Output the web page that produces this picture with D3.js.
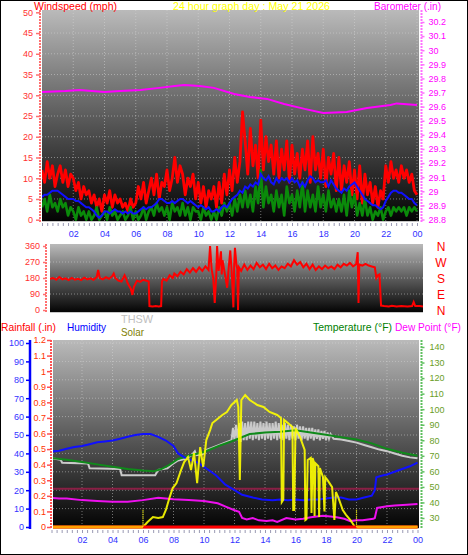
<!DOCTYPE html>
<html><head><meta charset="utf-8">
<script src="https://cdn.jsdelivr.net/npm/d3@7"></script>
<style>
body{margin:0;background:#fff}
svg{display:block}
text{font-family:"Liberation Sans Narrow","Liberation Sans",Arial,sans-serif}
</style>
</head><body>
<svg id="c" width="468" height="555"></svg>
<script>
// ---------------- DATA ----------------
const hourTicks = [2,4,6,8,10,12,14,16,18,20,22,24];
const hourLabels = ["02","04","06","08","10","12","14","16","18","20","22","00"];

// wind, one sample every 10 minutes (mph)
const windGust = [
12,9,14,10,13,8, 11,13,9,12,8,11, 10,7,9,5,8,6, 7,4,6,3,5,2, 6,4,7,3,6,4, 5,3,4,2,5,3,
4,8,5,9,4,7, 10,6,11,5,9,8, 12,7,10,15,9,13, 11,6,10,8,11,5, 9,4,8,3,7,5, 8,3,9,4,11,6,
12,7,15,9,14,26, 19,11,22,13,18,10, 24,12,20,14,18,11, 19,10,17,12,19,9, 18,11,16,10,17,12, 19,9,20,12,16,10,
17,8,15,11,16,7, 15,7,13,9,14,6, 12,5,13,4,11,6, 9,4,8,3,7,5, 13,9,14,10,12,9, 13,10,12,9,11,7, 6];
const windAvg = [
5.5,6,6,6.5,7,7, 7,6.5,6,5.5,5,5, 5,4.5,4.5,4,3.5,3, 3,2.5,2,1,0.5,1, 2,2,1.5,2,2.5,2, 2,1.5,2,1.5,2,1.5,
1.5,2,2.5,3,2.5,3, 3,3.5,4,5,5,4.5, 4,4,4.5,4,4.5,5, 5,4.5,4,4.5,4,3.5, 3,3.5,3,2.5,3,2, 2,2.5,2,3,3.5,3,
4,5,5.5,6,7,6.5, 8,7.5,8.5,8,9,8.5, 11,10,9.5,10.5,9,8.5, 10,9,10,9.5,10,9, 10,9,9.5,8,9,8, 9.5,10.5,10,9,9.5,9,
9,9.5,8,9.5,8.5,7.5, 7,6.5,7.5,7,8,8.5, 9,8,7,6,5,4.5, 4,3.5,3.5,3,2.5,3, 4.5,5.5,6.5,7,7,6.5, 6.5,6,5.5,5,5,4, 3.5];
const windSpeed = [
3,5,2,6,3,4, 2,5,3,4,1,3, 2,0,3,1,2,0, 2,0,1,3,0,1, 2,0,3,1,2,0, 1,2,0,1,3,0,
2,0,1,3,0,2, 3,1,4,2,3,1, 3,0,4,2,3,1, 4,1,3,0,3,2, 2,0,3,1,2,0, 2,0,3,1,4,2,
4,1,5,2,6,3, 7,3,6,2,8,4, 12,3,8,4,6,2, 7,3,6,1,8,4, 6,2,7,3,9,2, 7,3,6,2,8,3,
6,2,7,3,5,2, 5,2,6,1,7,3, 6,1,4,1,5,1, 3,0,2,1,3,0, 2,3,1,3,2,3, 2,3,1,3,2,3, 2];

// barometer [hour, inHg]
const barometer = [[0,29.704],[1.5,29.711],[2.4,29.718],[4,29.704],[5,29.711],[6.3,29.718],[7.5,29.733],
[8.5,29.747],[9.1,29.754],[10.1,29.747],[11,29.733],[12.3,29.69],[13.3,29.669],[14.4,29.655],[15.5,29.619],
[16.8,29.584],[18,29.555],[19.5,29.562],[20.8,29.59],[22.3,29.612],[22.7,29.623],[24,29.612]];

// wind direction [hour, degrees]
const windDir = [[0,175],[0.2,180],[0.4,170],[0.6,185],[0.8,172],[1,178],[1.2,168],[1.4,180],[1.6,170],[1.8,176],
[2,168],[2.2,182],[2.4,172],[2.6,178],[2.8,170],[3,185],[3.1,225],[3.2,180],[3.4,172],[3.6,185],[3.8,175],[4,190],
[4.1,205],[4.2,180],[4.4,165],[4.6,160],[4.8,195],[4.9,175],[5,150],[5.2,120],[5.3,85],[5.4,130],[5.6,165],[5.8,158],
[6,170],[6.2,165],[6.35,160],[6.4,22],[6.6,20],[6.8,22],[7,20],[7.15,22],[7.2,160],[7.3,175],[7.5,165],[7.7,195],
[7.9,180],[8,205],[8.2,190],[8.4,215],[8.6,200],[8.8,230],[9,210],[9.2,235],[9.4,215],[9.6,240],[9.8,220],[10,245],
[10.2,225],[10.3,360],[10.4,230],[10.5,180],[10.6,40],[10.7,200],[10.75,360],[10.85,220],[11,330],[11.05,200],
[11.1,280],[11.2,230],[11.4,125],[11.5,240],[11.6,335],[11.7,200],[11.8,15],[11.85,250],[11.9,350],[12,250],
[12.05,230],[12.1,0],[12.15,240],[12.3,220],[12.5,255],[12.7,225],[12.9,250],[13.1,230],[13.3,265],[13.5,240],
[13.7,255],[13.9,230],[14.1,260],[14.3,235],[14.5,250],[14.7,225],[14.9,245],[15.1,235],[15.3,260],[15.5,245],
[15.7,280],[15.9,255],[16.1,270],[16.3,240],[16.5,260],[16.7,230],[16.9,255],[17.1,225],[17.3,245],[17.5,230],
[17.7,250],[17.9,235],[18.1,245],[18.3,230],[18.5,255],[18.7,240],[18.9,260],[19.1,250],[19.3,265],[19.5,245],
[19.7,258],[19.8,325],[19.85,40],[19.9,255],[20.1,250],[20.3,260],[20.5,250],[20.7,245],[20.9,240],[21,180],
[21.1,195],[21.2,200],[21.3,25],[21.5,22],[21.8,20],[22,24],[22.3,20],[22.6,23],[23,20],[23.3,22],[23.4,45],
[23.5,22],[23.8,22],[24,20]];
const compass = ["N","W","S","E","N"];
const compassDeg = [360,270,180,90,0];

// humidity [hour, %]
const humidity = [[0,41],[0.5,41.5],[1,42.5],[1.5,43.5],[2,44],[2.5,45],[3,46],[3.5,46.5],[4,47],[4.5,48],[5,49],
[5.5,50],[6,50.5],[6.5,50.5],[7,49],[7.5,47],[8,44],[8.3,40],[8.8,37.5],[9.6,35],[10.3,31],[10.8,28],[11.4,23],
[12,20],[12.5,17.5],[13.2,16],[13.8,15],[14.5,14.5],[15,15],[15.5,14.5],[16,15],[16.5,14.5],[17,15],[17.5,15],
[18,15.5],[18.5,16],[19,16],[19.5,15],[20,15],[20.5,16],[21,17],[21.2,20],[21.3,27],[21.7,28],[22,28.5],
[22.5,30],[23,31.5],[23.5,33],[24,35]];
// temperature [hour, °F]
const temperature = [[0,68.5],[1,67.5],[2,66],[3,64.5],[4,63],[5,61.5],[6,60.5],[6.7,60],[7.2,61.5],[7.7,64],
[8.3,68],[9,70],[10,72.5],[11,76.5],[12,80],[13,84],[14,85],[15,85.5],[16,86.5],[17,85],[18,83.5],[19,82],
[20,80.5],[21,78],[22,74.5],[23,72],[24,70]];
// dew point [hour, °F]
const dewPoint = [[0,43],[0.5,42.5],[1,42.5],[2,41.5],[3,41],[4,40.5],[5,40.5],[6,41.5],[7,43],[8,42],[9,41.5],
[10,41],[10.9,39.5],[11.5,37],[12,35],[12.3,34],[12.5,30],[12.8,29],[13.2,30],[13.6,28.5],[14.1,28],[14.5,28.5],
[14.8,27.5],[15.4,30],[16,29],[16.5,29.5],[17,30.5],[17.8,31.5],[18.3,31],[18.7,30.5],[19.2,29.5],[19.6,28],
[20,28.5],[20.4,28.5],[21.1,29.5],[21.2,30],[21.35,36.5],[22,37.5],[22.5,38],[23.3,38.5],[24,39]];
// THSW index [hour, °F]
const thsw = [[0,68.5],[0.6,67.5],[0.7,65.5],[2.4,65],[2.5,62],[4.5,61.5],[4.6,57.5],[6.8,57.5],[7,61],[7.6,62],
[7.9,64.5],[8.3,67],[8.8,68],[9.2,70.5],[9.4,73],[9.5,70.5],[9.9,71],[10.2,74],[10.5,75],[11,77],[11.5,79],
[11.8,80],[11.9,88],[12,80],[12.1,90],[12.2,80],[12.3,91],[12.4,79],[12.5,92],[12.6,80],[12.7,91],[12.8,80],
[12.9,92],[13,81],[13.1,92],[13.2,80],[13.3,92],[13.4,81],[13.5,91],[13.6,80],[13.7,92],[13.8,81],[13.9,91],
[14,80],[14.1,92],[14.2,81],[14.3,91],[14.4,80],[14.5,91],[14.6,81],[14.7,92],[14.8,80],[14.9,91],[15,81],
[15.1,90],[15.2,80],[15.3,91],[15.4,81],[15.5,90],[15.6,80],[15.7,90],[15.8,81],[15.9,89],[16,80],[16.1,90],
[16.2,81],[16.3,89],[16.4,80],[16.5,89],[16.6,81],[16.7,88],[16.8,80],[16.9,88],[17,81],[17.1,88],[17.2,80],
[17.3,87],[17.4,81],[17.5,87],[17.6,80],[17.7,86],[17.8,81],[17.9,86],[18,80],[18.1,85],[18.2,81],[18.3,84],
[18.5,81],[19,80.5],[19.5,79.5],[20,78.5],[20.5,77],[21,75.5],[21.5,74],[22,73],[22.5,71.5],[23,70],[23.5,69],[24,68.5]];
// solar radiation [hour, W/m²]
const solar = [[0,0],[6,0],[6.3,32],[6.65,64],[7,58],[7.3,64],[7.5,109],[7.75,192],[7.95,250],[8.2,282],[8.5,366],
[8.7,417],[8.95,449],[9.15,366],[9.35,475],[9.55,282],[9.75,513],[9.95,385],[10.15,558],[10.4,622],[10.55,667],
[10.8,687],[11.2,719],[11.5,738],[11.8,783],[12.15,815],[12.25,770],[12.35,301],[12.45,815],[12.7,847],[13,815],
[13.5,783],[13.9,770],[14.3,738],[14.8,719],[15.05,700],[15.1,160],[15.2,175],[15.25,687],[15.5,667],[15.8,642],
[15.85,109],[15.92,109],[16,635],[16.3,577],[16.6,494],[16.65,45],[16.72,50],[16.8,430],[17,443],[17.05,90],
[17.12,443],[17.2,420],[17.25,70],[17.3,410],[17.5,390],[17.55,64],[17.6,378],[17.8,321],[17.9,100],[17.95,320],
[18.1,301],[18.4,256],[18.55,45],[18.65,225],[18.8,192],[19.1,109],[19.3,80],[19.6,45],[19.9,0],[24,0]];
const rainfall = [[0,0],[24,0]];
const sunTimes = [6,20];
const limitLevel = [0.245];

// ---------------- CHART ----------------
const svg = d3.select("#c");
const defs = svg.append("defs");
const grad = defs.append("linearGradient").attr("id","bg").attr("x1",0).attr("y1",0).attr("x2",0).attr("y2",1);
grad.append("stop").attr("offset","0%").attr("stop-color","#bababa");
grad.append("stop").attr("offset","50%").attr("stop-color","#5c5c5c");
grad.append("stop").attr("offset","100%").attr("stop-color","#020202");

svg.append("rect").attr("x",0.5).attr("y",0.5).attr("width",467).attr("height",554)
  .attr("fill","#fff").attr("stroke","#000");

function panel(id,x0,y0,x1,y1){
  defs.append("clipPath").attr("id",id).append("rect")
    .attr("x",x0).attr("y",y0).attr("width",x1-x0).attr("height",y1-y0);
  svg.append("rect").attr("x",x0).attr("y",y0).attr("width",x1-x0).attr("height",y1-y0).attr("fill","url(#bg)");
  svg.append("line").attr("x1",x0).attr("x2",x1).attr("y1",y1-0.5).attr("y2",y1-0.5).attr("stroke","#c8c8c8");
  return svg.append("g").attr("clip-path",`url(#${id})`);
}
function grid(g,xs,ys,x0,x1,y0,y1){
  g.selectAll(null).data(xs).join("line").attr("x1",d=>d).attr("x2",d=>d).attr("y1",y0).attr("y2",y1)
    .attr("stroke","rgba(215,215,215,0.5)").attr("stroke-dasharray","1,2");
  g.selectAll(null).data(ys).join("line").attr("y1",d=>d).attr("y2",d=>d).attr("x1",x0).attr("x2",x1)
    .attr("stroke","rgba(215,215,215,0.5)").attr("stroke-dasharray","1,2");
}
function styleAxis(a,lineColor,textColor,fs){
  a.attr("font-family",null).attr("font-size",null);
  a.select(".domain").remove();
  a.selectAll(".tick line").attr("stroke",lineColor).attr("stroke-width",1.5);
  a.selectAll(".tick text").attr("fill",textColor).attr("font-size",fs||9);
}
function vline(x,y0,y1,color,w,dash){
  svg.append("line").attr("x1",x).attr("x2",x).attr("y1",y0).attr("y2",y1)
    .attr("stroke",color).attr("stroke-width",w).attr("stroke-dasharray",dash||null);
}
const fmt1 = d => String(+d.toFixed(1));

// ---- Panel 1: wind + barometer
const P1 = {x0:42,x1:419,y0:10,y1:222};
const x1s = d3.scaleLinear().domain([0,24]).range([42,417]);
const yWind = d3.scaleLinear().domain([0,50]).range([219.7,12.3]);
const yBaro = d3.scaleLinear().domain([28.8,30.2]).range([219.5,22]);
const g1 = panel("p1",P1.x0,P1.y0,P1.x1,P1.y1);
grid(g1,hourTicks.map(x1s),d3.range(5,50,5).map(yWind),P1.x0,P1.x1,P1.y0,P1.y1);
const tIdx = i => i/6;
const lineW = d3.line().x((d,i)=>x1s(tIdx(i))).y(d=>yWind(d));
g1.append("path").attr("d",lineW(windGust)).attr("fill","none").attr("stroke","#ff0000").attr("stroke-width",2.8).attr("stroke-linejoin","round");
g1.append("path").attr("d",lineW(windSpeed)).attr("fill","none").attr("stroke","#0a8a0a").attr("stroke-width",2.6).attr("stroke-linejoin","round");
g1.append("path").attr("d",lineW(windAvg)).attr("fill","none").attr("stroke","#1010ff").attr("stroke-width",2);
g1.append("path").attr("d",d3.line().x(d=>x1s(d[0])).y(d=>yBaro(d[1]))(barometer))
  .attr("fill","none").attr("stroke","#ff00ff").attr("stroke-width",2);

vline(40,P1.y0,P1.y1,"#ff7070",2,"2,1");
const aW = svg.append("g").attr("transform","translate(40,0)")
  .call(d3.axisLeft(yWind).tickValues(d3.range(0,51,5)).tickSize(4).tickPadding(3).tickSizeOuter(0));
styleAxis(aW,"#ff7070","#ff3030");
vline(421.5,P1.y0,P1.y1,"#ff70ff",2,"2,1");
const aB = svg.append("g").attr("transform","translate(421.5,0)")
  .call(d3.axisRight(yBaro).tickValues(d3.range(0,15).map(i=>28.8+i*0.1)).tickFormat(fmt1).tickSize(3).tickPadding(4).tickSizeOuter(0));
styleAxis(aB,"#ff70ff","#ff00ff");
const xMin1 = svg.append("g").attr("transform","translate(0,223)")
  .call(d3.axisBottom(x1s).tickValues(d3.range(0,73).map(i=>i/3)).tickSize(3).tickFormat(""));
styleAxis(xMin1,"#9a9ab4","#000"); xMin1.selectAll(".tick line").attr("stroke-width",1);
const xA1 = svg.append("g").attr("transform","translate(0,229)")
  .call(d3.axisBottom(x1s).tickValues(hourTicks).tickFormat((d,i)=>hourLabels[i]).tickSize(0).tickPadding(2));
styleAxis(xA1,"none","#3030ff");

// titles
function title(txt,x,y,len,color,fs){
  svg.append("text").attr("x",x).attr("y",y).attr("fill",color).attr("font-size",fs)
    .attr("textLength",len).attr("lengthAdjust","spacingAndGlyphs").text(txt);
}
title("Windspeed (mph)",34,9.5,83,"#ff0000",11);
title("24 hour graph day : May 21 2026",173,9.5,157,"#ffff00",11);
title("Barometer (.in)",374,9.5,67,"#ff00ff",11);

// ---- Panel 2: wind direction
const P2 = {x0:50,x1:423,y0:244,y1:313};
const x2s = d3.scaleLinear().domain([0,24]).range([50,423]);
const yDir = d3.scaleLinear().domain([0,360]).range([310,246]);
const g2 = panel("p2",P2.x0,P2.y0,P2.x1,P2.y1);
grid(g2,[],[90,180,270].map(yDir),P2.x0,P2.x1,P2.y0,P2.y1);
g2.append("path").attr("d",d3.line().x(d=>x2s(d[0])).y(d=>yDir(d[1]))(windDir))
  .attr("fill","none").attr("stroke","#ff0000").attr("stroke-width",2);
vline(46,P2.y0,P2.y1,"#ff7070",2,"2,1");
const aD = svg.append("g").attr("transform","translate(46,0)")
  .call(d3.axisLeft(yDir).tickValues([0,90,180,270,360]).tickSize(3).tickPadding(3).tickSizeOuter(0));
styleAxis(aD,"#ff7070","#ff3030");
svg.selectAll(null).data(compass).join("text").attr("x",441).attr("y",(d,i)=>yDir(compassDeg[i])+4.5)
  .attr("text-anchor","middle").attr("fill","#ff0000").attr("font-size",12).text(d=>d);

// ---- Panel 3
title("Rainfall (.in)",1,331,55,"#ff0000",10.5);
title("Humidity",67,331,39,"#0000ff",10.5);
title("THSW",121,323,32,"#c0c0c0",10.5);
title("Solar",121,336,23,"#808000",10.5);
title("Temperature (°F)",313,331,79,"#008000",10.5);
title("Dew Point (°F)",395,331,66,"#ff00ff",10.5);

const P3 = {x0:53,x1:419,y0:340,y1:529};
const x3s = d3.scaleLinear().domain([0,24]).range([51.5,417.5]);
const yHum = d3.scaleLinear().domain([0,100]).range([527,343]);
const yRain = d3.scaleLinear().domain([0,1.2]).range([527,340]);
const yTemp = d3.scaleLinear().domain([30,140]).range([518,347]);
const ySol = d3.scaleLinear().domain([0,1200]).range([527,340]);
const g3 = panel("p3",P3.x0,P3.y0,P3.x1,P3.y1);
grid(g3,hourTicks.slice(0,-1).map(x3s),d3.range(10,101,10).map(yHum),P3.x0,P3.x1,P3.y0,P3.y1);
g3.selectAll(null).data(limitLevel).join("line").attr("x1",P3.x0).attr("x2",P3.x1)
  .attr("y1",d=>yRain(d)).attr("y2",d=>yRain(d)).attr("stroke","#8a1f45").attr("stroke-width",2);
const lineT = d3.line().x(d=>x3s(d[0])).y(d=>yTemp(d[1]));
g3.append("path").attr("d",lineT(thsw)).attr("fill","none").attr("stroke","#cacaca").attr("stroke-width",2);
g3.append("path").attr("d",lineT(temperature)).attr("fill","none").attr("stroke","#0f8a1a").attr("stroke-width",2);
g3.append("path").attr("d",d3.line().x(d=>x3s(d[0])).y(d=>yHum(d[1]))(humidity))
  .attr("fill","none").attr("stroke","#1010ff").attr("stroke-width",2);
g3.append("path").attr("d",lineT(dewPoint)).attr("fill","none").attr("stroke","#ee10ee").attr("stroke-width",2);
g3.append("path").attr("d",d3.line().x(d=>x3s(d[0])).y(d=>ySol(d[1]))(solar))
  .attr("fill","none").attr("stroke","#ffff00").attr("stroke-width",2).attr("stroke-opacity",0.9);
g3.append("path").attr("d",d3.line().x(d=>x3s(d[0])).y(d=>yRain(d[1]))(rainfall))
  .attr("fill","none").attr("stroke","#ff0000").attr("stroke-width",3);
const night = [[0,sunTimes[0]],[sunTimes[1],24]];
g3.selectAll(null).data(night).join("line").attr("x1",d=>x3s(d[0])).attr("x2",d=>x3s(d[1]))
  .attr("y1",yRain(0)).attr("y2",yRain(0)).attr("stroke","#ffa000").attr("stroke-width",3);
g3.selectAll(null).data(sunTimes).join("line").attr("x1",d=>x3s(d)).attr("x2",d=>x3s(d))
  .attr("y1",ySol(110)).attr("y2",ySol(0)).attr("stroke","#ffff00").attr("stroke-width",1.2).attr("stroke-dasharray","1,1");

vline(30,P3.y0,P3.y1,"#0000ff",2.5);
const aH = svg.append("g").attr("transform","translate(30,0)")
  .call(d3.axisLeft(yHum).tickValues(d3.range(0,101,10)).tickSize(4).tickPadding(2).tickSizeOuter(0));
styleAxis(aH,"#0000ff","#3333ff");
vline(51,P3.y0,P3.y1,"#ff5050",2,"2,1");
const aR = svg.append("g").attr("transform","translate(51,0)")
  .call(d3.axisLeft(yRain).tickValues(d3.range(0,13).map(i=>i/10)).tickFormat(fmt1).tickSize(4).tickPadding(1).tickSizeOuter(0));
styleAxis(aR,"#ff5050","#ff3300");
vline(421.5,P3.y0,P3.y1,"#60c060",2,"2,1");
const aT = svg.append("g").attr("transform","translate(421.5,0)")
  .call(d3.axisRight(yTemp).tickValues(d3.range(30,141,10)).tickSize(3).tickPadding(5).tickSizeOuter(0));
styleAxis(aT,"#60c060","#6a9e1f");
const xMin3 = svg.append("g").attr("transform","translate(0,530)")
  .call(d3.axisBottom(x3s).tickValues(d3.range(0,73).map(i=>i/3)).tickSize(3).tickFormat(""));
styleAxis(xMin3,"#9a9ab4","#000"); xMin3.selectAll(".tick line").attr("stroke-width",1);
const xA3 = svg.append("g").attr("transform","translate(0,535)")
  .call(d3.axisBottom(x3s).tickValues(hourTicks).tickFormat((d,i)=>hourLabels[i]).tickSize(0).tickPadding(2));
styleAxis(xA3,"none","#3030ff");
</script>
</body></html>
